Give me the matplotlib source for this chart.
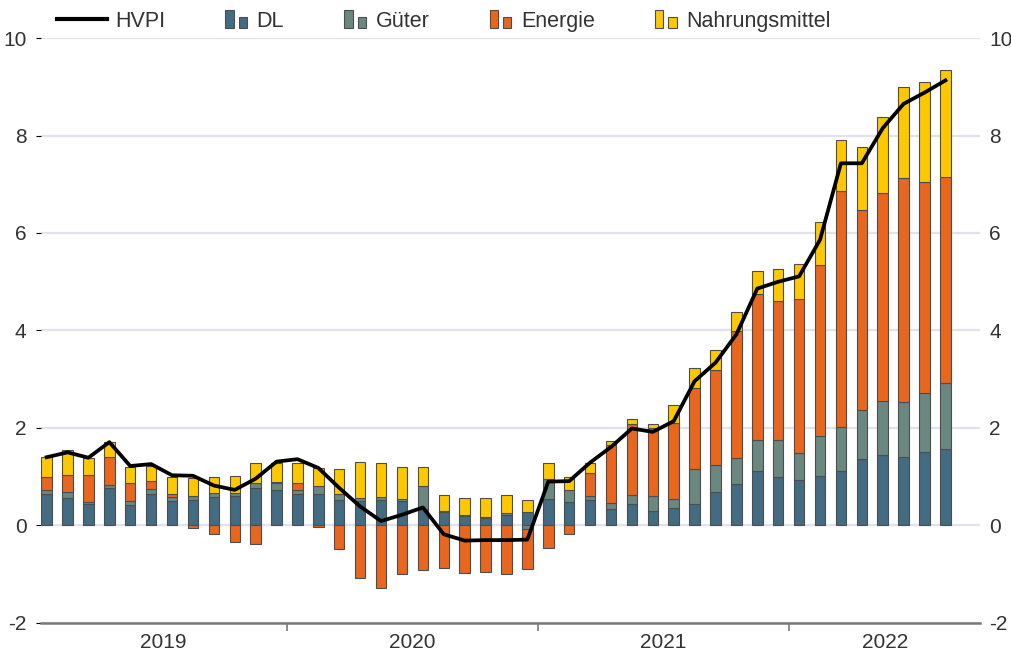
import matplotlib
matplotlib.use("Agg")
import matplotlib.pyplot as plt
import numpy as np
from matplotlib.patches import Rectangle, Patch
from matplotlib.lines import Line2D

plt.rcParams['font.family'] = ['Liberation Sans', 'DejaVu Sans']
plt.rcParams['axes.unicode_minus'] = False

# Jan 2019 .. Aug 2022, monthly
years = ['2019', '2020', '2021', '2022']

hvpi = [1.40, 1.50, 1.39, 1.71, 1.22, 1.26, 1.03, 1.02, 0.82, 0.73, 0.96, 1.31,
        1.36, 1.18, 0.77, 0.39, 0.09, 0.22, 0.37, -0.18, -0.31, -0.30, -0.30, -0.29,
        0.90, 0.91, 1.29, 1.61, 1.99, 1.92, 2.14, 2.96, 3.34, 3.92, 4.86, 5.00,
        5.11, 5.86, 7.43, 7.43, 8.15, 8.65, 8.88, 9.13]

dl = [0.65, 0.56, 0.45, 0.77, 0.41, 0.65, 0.50, 0.53, 0.58, 0.60, 0.77, 0.72,
      0.65, 0.65, 0.53, 0.50, 0.53, 0.50, 0.33, 0.27, 0.19, 0.16, 0.22, 0.27,
      0.54, 0.48, 0.53, 0.34, 0.45, 0.29, 0.36, 0.45, 0.69, 0.86, 1.12, 1.00,
      0.94, 1.01, 1.11, 1.37, 1.44, 1.41, 1.51, 1.56]

gueter = [0.08, 0.12, 0.03, 0.07, 0.09, 0.10, 0.08, 0.07, 0.09, 0.06, 0.11, 0.15,
          0.07, 0.15, 0.12, 0.06, 0.06, 0.04, 0.47, 0.03, 0.03, 0.02, 0.04, -0.08,
          0.41, 0.25, 0.07, 0.13, 0.17, 0.31, 0.19, 0.70, 0.56, 0.53, 0.63, 0.75,
          0.55, 0.82, 0.91, 0.99, 1.11, 1.12, 1.21, 1.37]

energie = [0.27, 0.36, 0.56, 0.56, 0.38, 0.17, 0.07, -0.06, -0.18, -0.34, -0.37, 0.02,
           0.16, -0.03, -0.49, -1.07, -1.29, -1.00, -0.91, -0.88, -0.98, -0.95, -0.99, -0.82,
           -0.46, -0.18, 0.47, 1.19, 1.46, 1.39, 1.56, 1.67, 1.93, 2.60, 3.00, 2.85,
           3.16, 3.52, 4.84, 4.11, 4.27, 4.60, 4.32, 4.22]

nahrung = [0.40, 0.50, 0.34, 0.32, 0.31, 0.29, 0.34, 0.37, 0.33, 0.35, 0.41, 0.40,
           0.41, 0.38, 0.51, 0.75, 0.69, 0.65, 0.40, 0.33, 0.34, 0.38, 0.37, 0.26,
           0.33, 0.26, 0.22, 0.07, 0.10, 0.10, 0.36, 0.42, 0.42, 0.39, 0.48, 0.66,
           0.72, 0.87, 1.04, 1.30, 1.56, 1.87, 2.05, 2.20]

series = [('DL', dl, '#436b82'),
          ('Güter', gueter, '#6b8880'),
          ('Energie', energie, '#e8661e'),
          ('Nahrungsmittel', nahrung, '#fdc800')]

x = np.arange(len(hvpi))
edge = '#4d4d4d'
txt = '#333333'

fig = plt.figure(figsize=(10.12, 6.68), dpi=100)
ax = fig.add_axes([0.0405, 0.0674, 0.928, 0.8757])

pos = np.zeros(len(x))
neg = np.zeros(len(x))
for name, vals, col in series:
    v = np.array(vals)
    base = np.where(v >= 0, pos, neg)
    ax.bar(x, v, 0.5, bottom=base, color=col, edgecolor=edge, linewidth=0.8, zorder=2)
    pos += np.where(v > 0, v, 0)
    neg += np.where(v < 0, v, 0)

ax.plot(x, hvpi, color='black', lw=2.7, zorder=3, solid_joinstyle='round')

ax.set_xlim(-0.27, 44.66)
ax.set_ylim(-2, 10)
ax.set_yticks(range(-2, 11, 2))
ax.grid(axis='y', color='#e2e2ec', lw=1.6, zorder=0)
ax.set_axisbelow(True)
for s in ['top', 'left', 'right']:
    ax.spines[s].set_visible(False)
ax.spines['bottom'].set_color('#7a7a7a')
ax.spines['bottom'].set_linewidth(1.8)
ax.tick_params(axis='y', left=False, labelsize=15, labelcolor=txt, pad=7)

ax2 = ax.twinx()
ax2.set_ylim(-2, 10)
ax2.set_yticks(range(-2, 11, 2))
ax2.tick_params(axis='y', right=False, labelsize=15, labelcolor=txt, pad=3)
for s in ax2.spines.values():
    s.set_visible(False)

ax.set_xticks([11.5, 23.5, 35.5])
ax.set_xticklabels([])
ax.tick_params(axis='x', which='major', length=6, width=1.2, color='#7a7a7a')
ax.set_xticks([5.6, 17.5, 29.5, 40.1], minor=True)
ax.set_xticklabels(years, minor=True)
ax.tick_params(axis='x', which='minor', length=0, labelsize=15, labelcolor=txt, pad=7)


class TwoBoxHandler:
    def legend_artist(self, legend, orig_handle, fontsize, handlebox):
        x0, y0 = handlebox.xdescent, handlebox.ydescent
        h = handlebox.height
        c = orig_handle.get_facecolor()
        tr = handlebox.get_transform()
        big = Rectangle((x0, y0 - 0.1 * h), 6, 1.25 * h, fc=c, ec=edge, lw=0.8, transform=tr)
        small = Rectangle((x0 + 9.5, y0 - 0.1 * h), 6, 0.75 * h, fc=c, ec=edge, lw=0.8, transform=tr)
        handlebox.add_artist(big)
        handlebox.add_artist(small)
        return big


class LongLineHandler:
    def legend_artist(self, legend, orig_handle, fontsize, handlebox):
        x0, y0 = handlebox.xdescent, handlebox.ydescent
        w, h = handlebox.width, handlebox.height
        ln = Line2D([x0 + w - 36, x0 + w], [y0 + h / 2, y0 + h / 2], color='black', lw=3,
                    transform=handlebox.get_transform())
        handlebox.add_artist(ln)
        return ln


line_handle = Line2D([], [], color='black', lw=3)
handles = [line_handle]
labels = ['HVPI']
hmap = {line_handle: LongLineHandler()}
for name, vals, col in series:
    p = Patch(facecolor=col)
    handles.append(p)
    labels.append(name)
    hmap[p] = TwoBoxHandler()

fig.legend(handles, labels, handler_map=hmap, loc='center left', bbox_to_anchor=(0.0636, 0.968),
           ncol=5, frameon=False, fontsize=15.5, handlelength=1.1, handletextpad=0.35,
           columnspacing=2.8, labelcolor=txt)

fig.savefig('out.png', dpi=100)
